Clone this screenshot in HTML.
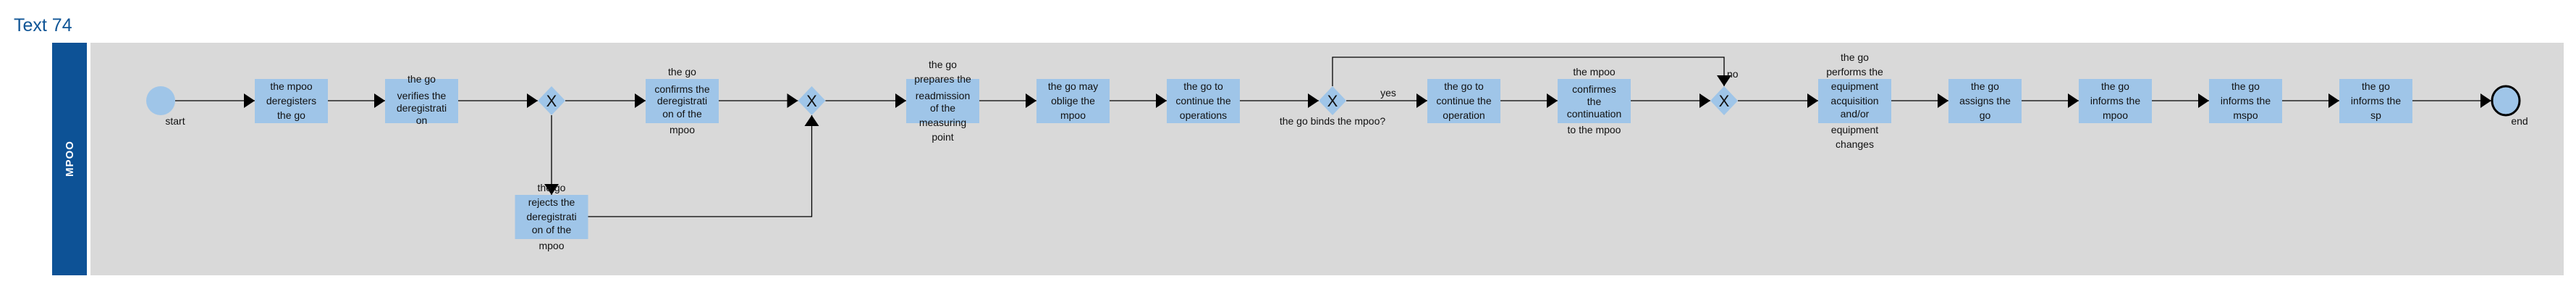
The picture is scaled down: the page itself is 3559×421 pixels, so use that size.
<!DOCTYPE html>
<html><head><meta charset="utf-8"><style>
html,body{margin:0;padding:0;background:#fff;}
svg{display:block;}
text{font-family:"Liberation Sans",Arial,sans-serif;font-size:14px;fill:#111;text-anchor:middle;}
</style></head><body>
<svg width="3559" height="421" viewBox="0 0 3559 421" xmlns="http://www.w3.org/2000/svg">
<defs>
<marker id="a" markerWidth="15" markerHeight="20" refX="15" refY="10" orient="auto" markerUnits="userSpaceOnUse">
<path d="M0,0 L15,10 L0,20 Z" fill="#000"/></marker>
</defs>
<text x="19" y="43" style="font-size:25px;fill:#0f5596;text-anchor:start">Text 74</text>
<rect x="72" y="59" width="48" height="321" fill="#0d5296"/>
<text transform="translate(101,219) rotate(-90)" style="fill:#fff;font-size:15px;font-weight:bold;letter-spacing:1px">MPOO</text>
<rect x="125" y="59" width="3417" height="321" fill="#d9d9d9"/>

<g stroke="#000" stroke-width="1.3" fill="none">
<line x1="242" y1="139" x2="352" y2="139" marker-end="url(#a)"/>
<line x1="453" y1="139" x2="532" y2="139" marker-end="url(#a)"/>
<line x1="633" y1="139" x2="743" y2="139" marker-end="url(#a)"/>
<line x1="781" y1="139" x2="892" y2="139" marker-end="url(#a)"/>
<line x1="993" y1="139" x2="1102.5" y2="139" marker-end="url(#a)"/>
<line x1="762" y1="159" x2="762" y2="269" marker-end="url(#a)"/>
<polyline points="812.5,299 1121.5,299 1121.5,159" marker-end="url(#a)"/>
<line x1="1140.5" y1="139" x2="1252" y2="139" marker-end="url(#a)"/>
<line x1="1353" y1="139" x2="1432" y2="139" marker-end="url(#a)"/>
<line x1="1533" y1="139" x2="1612" y2="139" marker-end="url(#a)"/>
<line x1="1713" y1="139" x2="1822" y2="139" marker-end="url(#a)"/>
<line x1="1860" y1="139" x2="1972" y2="139" marker-end="url(#a)"/>
<line x1="2073" y1="139" x2="2152" y2="139" marker-end="url(#a)"/>
<line x1="2253" y1="139" x2="2363" y2="139" marker-end="url(#a)"/>
<polyline points="1841,119 1841,79 2382,79 2382,119" marker-end="url(#a)"/>
<line x1="2401" y1="139" x2="2512" y2="139" marker-end="url(#a)"/>
<line x1="2613" y1="139" x2="2692" y2="139" marker-end="url(#a)"/>
<line x1="2793" y1="139" x2="2872" y2="139" marker-end="url(#a)"/>
<line x1="2973" y1="139" x2="3052" y2="139" marker-end="url(#a)"/>
<line x1="3153" y1="139" x2="3232" y2="139" marker-end="url(#a)"/>
<line x1="3333" y1="139" x2="3442" y2="139" marker-end="url(#a)"/>
</g>

<circle cx="222" cy="139" r="20" fill="#9fc5e8"/>
<ellipse cx="3462" cy="139" rx="19" ry="20" fill="#9fc5e8" stroke="#000" stroke-width="3"/>

<g fill="#9fc5e8">
<rect x="352" y="109" width="101" height="61"/>
<rect x="532" y="109" width="101" height="61"/>
<rect x="892" y="109" width="101" height="61"/>
<rect x="711.5" y="269" width="101" height="61"/>
<rect x="1252" y="109" width="101" height="61"/>
<rect x="1432" y="109" width="101" height="61"/>
<rect x="1612" y="109" width="101" height="61"/>
<rect x="1972" y="109" width="101" height="61"/>
<rect x="2152" y="109" width="101" height="61"/>
<rect x="2512" y="109" width="101" height="61"/>
<rect x="2692" y="109" width="101" height="61"/>
<rect x="2872" y="109" width="101" height="61"/>
<rect x="3052" y="109" width="101" height="61"/>
<rect x="3232" y="109" width="101" height="61"/>
<polygon points="762,119 781,139 762,159 743,139"/>
<polygon points="1121.5,119 1140.5,139 1121.5,159 1102.5,139"/>
<polygon points="1841,119 1860,139 1841,159 1822,139"/>
<polygon points="2382,119 2401,139 2382,159 2363,139"/>
</g>
<text x="762" y="147" style="font-size:22px">X</text>
<text x="1121.5" y="147" style="font-size:22px">X</text>
<text x="1841" y="147" style="font-size:22px">X</text>
<text x="2382" y="147" style="font-size:22px">X</text>

<text x="242" y="172">start</text>
<text x="402.5" y="124">the mpoo</text><text x="402.5" y="144">deregisters</text><text x="402.5" y="164">the go</text>
<text x="582.5" y="114">the go</text><text x="582.5" y="137">verifies the</text><text x="582.5" y="154">deregistrati</text><text x="582.5" y="171">on</text>
<text x="942.5" y="104">the go</text><text x="942.5" y="128">confirms the</text><text x="942.5" y="144">deregistrati</text><text x="942.5" y="162">on of the</text><text x="942.5" y="184">mpoo</text>
<text x="762" y="264">the go</text><text x="762" y="284">rejects the</text><text x="762" y="304">deregistrati</text><text x="762" y="322">on of the</text><text x="762" y="344">mpoo</text>
<text x="1302.5" y="94">the go</text><text x="1302.5" y="114">prepares the</text><text x="1302.5" y="137">readmission</text><text x="1302.5" y="154">of the</text><text x="1302.5" y="174">measuring</text><text x="1302.5" y="194">point</text>
<text x="1482.5" y="124">the go may</text><text x="1482.5" y="144">oblige the</text><text x="1482.5" y="164">mpoo</text>
<text x="1662.5" y="124">the go to</text><text x="1662.5" y="144">continue the</text><text x="1662.5" y="164">operations</text>
<text x="1841" y="172">the go binds the mpoo?</text>
<text x="1918" y="133">yes</text>
<text x="2022.5" y="124">the go to</text><text x="2022.5" y="144">continue the</text><text x="2022.5" y="164">operation</text>
<text x="2202.5" y="104">the mpoo</text><text x="2202.5" y="128">confirmes</text><text x="2202.5" y="145">the</text><text x="2202.5" y="162">continuation</text><text x="2202.5" y="184">to the mpoo</text>
<text x="2386" y="107" style="text-anchor:start">no</text>
<text x="2562.5" y="84">the go</text><text x="2562.5" y="104">performs the</text><text x="2562.5" y="124">equipment</text><text x="2562.5" y="144">acquisition</text><text x="2562.5" y="162">and/or</text><text x="2562.5" y="184">equipment</text><text x="2562.5" y="204">changes</text>
<text x="2742.5" y="124">the go</text><text x="2742.5" y="144">assigns the</text><text x="2742.5" y="164">go</text>
<text x="2922.5" y="124">the go</text><text x="2922.5" y="144">informs the</text><text x="2922.5" y="164">mpoo</text>
<text x="3102.5" y="124">the go</text><text x="3102.5" y="144">informs the</text><text x="3102.5" y="164">mspo</text>
<text x="3282.5" y="124">the go</text><text x="3282.5" y="144">informs the</text><text x="3282.5" y="164">sp</text>
<text x="3481" y="172">end</text>
</svg>
</body></html>
